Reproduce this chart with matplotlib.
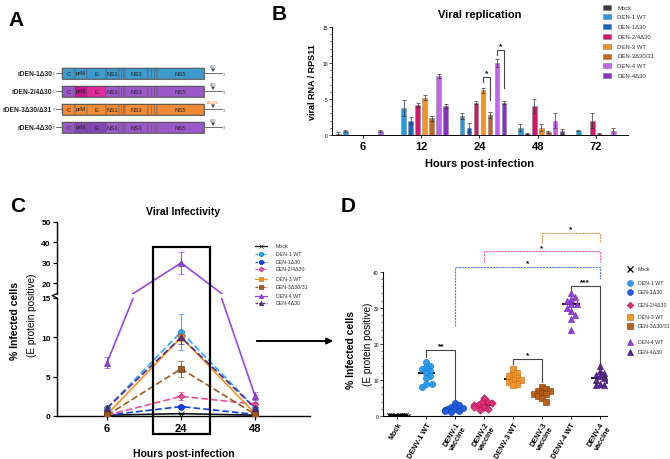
import numpy as np
import matplotlib
matplotlib.use("Agg")
import matplotlib.pyplot as plt
from matplotlib.patches import Rectangle, Polygon
from matplotlib.ticker import MultipleLocator

plt.rcParams['font.family'] = ['Liberation Sans', 'DejaVu Sans']

W, H = 670, 460

# ── Panel A: genome schematic ───────────────────────────────
seg_names = ['C', 'prM', 'E', 'NS1', '', 'NS3', '', 'NS5']
seg_len = [13, 12, 19, 13, 6, 23, 9, 47]
constructs = ['rDEN-1Δ30', 'rDEN-2/4Δ30', 'rDEN-3Δ30/Δ31', 'rDEN-4Δ30']
mut_labels = ['Δ30', 'Δ30', 'Δ30/31', 'Δ30']
_b, _p, _o = '#3d9bd0', '#9a58c8', '#f28a35'
construct_colors = [
    [_b] * 8,
    [_p, '#c8158e', '#e02a9c', _p, _p, _p, _p, _p],
    [_o] * 8,
    [_p, '#8546b5', '#8546b5', _p, _p, _p, _p, _p],
]
mut_colors = ['#3a5a90', '#555555', '#f07030', '#555555']

# ── Panel B: viral RNA / RPS11 ──────────────────────────────
strains = ['Mock', 'DEN-1 WT', 'DEN-1Δ30', 'DEN-2/4Δ30',
           'DEN-3 WT', 'DEN-3Δ30/31', 'DEN-4 WT', 'DEN-4Δ30']
hours_b = ['6', '12', '24', '48', '72']
rna_mock   = [0.2, 0.0, 0.0, 0.0, 0.0]
rna_d1wt   = [0.5, 3.8, 2.6, 1.0, 0.6]
rna_d1d30  = [0.05, 2.0, 1.0, 0.2, 0.0]
rna_d24    = [0.0, 4.2, 4.5, 4.0, 2.0]
rna_d3wt   = [0.0, 5.2, 6.2, 1.0, 0.2]
rna_d3d30  = [0.0, 2.3, 2.8, 0.4, 0.0]
rna_d4wt   = [0.5, 8.2, 10.0, 2.0, 0.5]
rna_d4d30  = [0.0, 4.0, 4.5, 0.5, 0.0]
sd_mock    = [0.2, 0, 0, 0, 0]
sd_d1wt    = [0.15, 1.1, 0.4, 0.5, 0.1]
sd_d1d30   = [0.0, 0.5, 0.6, 0.1, 0.0]
sd_d24     = [0.0, 0.3, 0.2, 1.0, 1.0]
sd_d3wt    = [0.0, 0.3, 0.3, 0.5, 0.1]
sd_d3d30   = [0.0, 0.3, 0.4, 0.15, 0.0]
sd_d4wt    = [0.15, 0.3, 0.5, 1.0, 0.5]
sd_d4d30   = [0.0, 0.3, 0.2, 0.3, 0.0]
colors_b = ['#3a3a3a', '#1e9de6', '#1566c4', '#d8116a',
            '#f7931e', '#c7651c', '#c262ee', '#8a2fc6']

# ── Panel C: infectivity time course ────────────────────────
hours_c = ['6', '24', '48']
inf_mock  = [0.1, 0.3, 0.1]
inf_d1wt  = [1.0, 10.7, 1.0]
inf_d1d30 = [0.1, 1.2, 0.2]
inf_d24   = [0.1, 2.5, 1.5]
inf_d3wt  = [0.2, 10.0, 0.3]
inf_d3d30 = [0.1, 6.0, 0.2]
inf_d4wt  = [6.8, 30.0, 2.5]
inf_d4d30 = [1.0, 10.0, 1.0]
err_mock  = [0.0, 0.0, 0.0]
err_d1wt  = [0.2, 2.3, 0.2]
err_d1d30 = [0.05, 0.15, 0.05]
err_d24   = [0.05, 0.5, 0.3]
err_d3wt  = [0.05, 0.5, 0.1]
err_d3d30 = [0.05, 1.0, 0.1]
err_d4wt  = [0.7, 5.5, 0.5]
err_d4d30 = [0.2, 0.8, 0.2]

# ── Panel D: % infected cells at 24 h ───────────────────────
groups_d = ['Mock', 'DENV-1 WT', 'DENV-1\nvaccine', 'DENV-2\nvaccine',
            'DENV-3 WT', 'DENV-3\nvaccine', 'DENV-4 WT', 'DENV-4\nvaccine']
pct_mock  = [0.1, 0.2, 0.3, 0.2, 0.1, 0.3, 0.4, 0.2, 0.3, 0.1]
pct_d1wt  = [15, 14, 13.5, 13, 12.5, 12, 11, 10.5, 9, 9, 8]
pct_d1vac = [3.5, 3, 2.5, 2.2, 2, 2, 1.8, 1.5, 1.5, 1.2]
pct_d2vac = [5, 4, 3.8, 3.5, 3, 3, 2.5, 2.5, 2, 1.8]
pct_d3wt  = [13, 12, 11.5, 11, 10.5, 10, 10, 9.5, 9, 8.5]
pct_d3vac = [8, 7.5, 7, 6.8, 6.5, 6, 6, 5.5, 5, 4]
pct_d4wt  = [34, 33, 32.5, 32, 31, 31, 30, 29, 28, 27, 24]
pct_d4vac = [14, 12.5, 12, 11.5, 11, 10.5, 10, 10, 9, 8.5, 8.5]
legend_d = ['Mock', 'DEN-1 WT', 'DEN-1Δ30', 'DEN-2/4Δ30', 'DEN-3 WT',
            'DEN-3Δ30/31', 'DEN-4 WT', 'DEN-4Δ30']

c_col = ['#111111', '#2aa8f0', '#1040e8', '#f04c9e', '#f59424',
         '#a25a20', '#9b45e8', '#5a2a90']
c_edge = ['#111111', '#1a6fb0', '#0a2690', '#b0206a', '#b85f10',
          '#603410', '#6a25a8', '#35185a']
c_mark = ['x', 'o', 'o', 'D', 's', 's', '^', '^']
c_ls = ['-', '--', '--', '--', '-', '--', '-', '--']
d_col = ['#111111', '#2a9df4', '#1f5ee8', '#e0307a', '#f5952a',
         '#b8601a', '#9b3de0', '#5b2596']
d_edge = ['#111111', '#1a70c0', '#1238a0', '#a01850', '#c06a10',
          '#7a3a08', '#6a1fb0', '#351060']

fig = plt.figure(figsize=(W / 100, H / 100), dpi=100)


def px_axes(x0, y0, x1, y1):
    return fig.add_axes([x0 / W, 1 - y1 / H, (x1 - x0) / W, (y1 - y0) / H])


# ── B ───────────────────────────────────────────────────────
axb = px_axes(332, 28, 628, 136)
rna = [rna_mock, rna_d1wt, rna_d1d30, rna_d24, rna_d3wt, rna_d3d30, rna_d4wt, rna_d4d30]
sds = [sd_mock, sd_d1wt, sd_d1d30, sd_d24, sd_d3wt, sd_d3d30, sd_d4wt, sd_d4d30]
xb = np.arange(len(hours_b))
step = 0.12
for i, (v, e) in enumerate(zip(rna, sds)):
    axb.bar(xb + (i - 3.5) * step, v, 0.08, yerr=e, color=colors_b[i],
            edgecolor='#8a8a8a', linewidth=0.4,
            error_kw=dict(elinewidth=0.5, capsize=1.2, capthick=0.5, ecolor='#333333'))
axb.set_xlim(-0.53, 4.55)
axb.set_ylim(0, 15)
axb.set_xticks(xb)
axb.set_xticklabels(hours_b, fontsize=8, fontweight='bold')
axb.set_yticks([0, 5, 10, 15])
axb.yaxis.set_minor_locator(MultipleLocator(1))
axb.tick_params(axis='y', labelsize=3.5, length=2, width=0.5, pad=1)
axb.tick_params(axis='y', which='minor', length=1.2, width=0.4)
axb.tick_params(axis='x', length=2.5, width=0.6, pad=2)
for s in ['top', 'right']:
    axb.spines[s].set_visible(False)
for s in ['left', 'bottom']:
    axb.spines[s].set_linewidth(0.7)
axb.set_ylabel('viral RNA / RPS11', fontsize=6.5, fontweight='bold', labelpad=4)
axb.set_xlabel('Hours post-infection', fontsize=8, fontweight='bold', labelpad=5)
axb.set_title('Viral replication', fontsize=8, fontweight='bold', pad=7)


def bracket(ax, x1, x2, y, yl, yr, star, color='#444444', ls='-', lw=0.8, fs=6, dy=0.6):
    ax.plot([x1, x1, x2, x2], [yl, y, y, yr], color=color, ls=ls, lw=lw, clip_on=False)
    ax.text((x1 + x2) / 2, y + dy, star, ha='center', va='center',
            fontsize=fs, fontweight='bold', clip_on=False)


bracket(axb, 2 + 0.5 * step, 2 + 1.5 * step, 8.1, 7.3, 4.9, '*', dy=0.6)
bracket(axb, 2 + 2.5 * step, 2 + 3.5 * step, 11.8, 11.1, 6.5, '*', dy=0.6)

# ── C (broken y axis) ──────────────────────────────────────
axc_lo = px_axes(57, 299, 310, 417)
axc_hi = px_axes(57, 223, 310, 294.5)
inf = [inf_mock, inf_d1wt, inf_d1d30, inf_d24, inf_d3wt, inf_d3d30, inf_d4wt, inf_d4d30]
errs = [err_mock, err_d1wt, err_d1d30, err_d24, err_d3wt, err_d3d30, err_d4wt, err_d4d30]
xc = np.arange(len(hours_c))
for ax in (axc_lo, axc_hi):
    for i in range(8):
        ms = 3.2 if c_mark[i] == 'D' else 4.2
        ax.errorbar(xc, inf[i], yerr=errs[i], color=c_col[i], ls=c_ls[i], lw=1.2,
                    marker=c_mark[i], ms=ms, mfc=c_col[i], mec=c_edge[i], mew=0.5,
                    elinewidth=0.7, capsize=2, capthick=0.7,
                    dashes=(4, 1.8) if c_ls[i] == '--' else (None, None),
                    zorder=3 + (i == 6))
    ax.set_xlim(-0.676, 2.74)
    ax.spines['top'].set_visible(False)
    ax.spines['right'].set_visible(False)
    ax.spines['left'].set_linewidth(1.0)
    ax.tick_params(axis='y', labelsize=6, length=3, width=0.9, pad=1.5)
axc_lo.set_ylim(0, 15)
axc_lo.set_yticks([0, 5, 10, 15])
axc_lo.set_xticks(xc)
axc_lo.set_xticklabels(hours_c, fontsize=8, fontweight='bold')
axc_lo.tick_params(axis='x', length=3, width=0.9, pad=2)
axc_lo.spines['bottom'].set_linewidth(1.0)
axc_lo.set_xlabel('Hours post-infection', fontsize=7.5, fontweight='bold', labelpad=11)
axc_hi.set_ylim(15, 50)
axc_hi.set_yticks([20, 30, 40, 50])
axc_hi.spines['bottom'].set_visible(False)
axc_hi.set_xticks([])
axc_hi.set_title('Viral Infectivity', fontsize=7.5, fontweight='bold', pad=6)
for t in axc_lo.get_yticklabels() + axc_hi.get_yticklabels():
    t.set_fontweight('bold')
# break marks
axc_hi.plot([-0.018, 0.0], [-0.03, 0.0], transform=axc_hi.transAxes,
            color='black', lw=0.9, clip_on=False)
axc_lo.plot([-0.018, 0.0], [1.02, 1.0], transform=axc_lo.transAxes,
            color='black', lw=0.9, clip_on=False)

# ── D ───────────────────────────────────────────────────────
axd = px_axes(383, 226, 607, 417)
pct = [pct_mock, pct_d1wt, pct_d1vac, pct_d2vac, pct_d3wt, pct_d3vac, pct_d4wt, pct_d4vac]
xpx, ypx = 29.0, 3.6


def swarm(vals, d=4.2, st=2.0):
    placed, offs = [], []
    for v in vals:
        for k in [0, 1, -1, 2, -2, 3, -3, 4, -4, 5, -5]:
            ox = k * st
            if all((ox - px) ** 2 + ((v - pv) * ypx) ** 2 >= d * d for px, pv in placed):
                break
        placed.append((ox, v))
        offs.append(ox / xpx)
    return np.array(offs)


for i, vals in enumerate(pct):
    offs = swarm(vals, d=2.2, st=2.2) if i == 0 else swarm(vals)
    med = np.median(vals)
    axd.plot([i - 0.3, i + 0.3], [med, med], color='black', lw=1.3, zorder=2,
             solid_capstyle='butt')
    if c_mark[i] == 'x':
        axd.scatter(i + offs, vals, marker='x', s=9, color='black', lw=0.8, zorder=3)
    else:
        axd.scatter(i + offs, vals, marker=c_mark[i], s=20 if c_mark[i] != 'D' else 15,
                    color=d_col[i], edgecolors=d_edge[i], linewidths=0.4, zorder=3)
axd.set_xlim(-0.5, 7.25)
axd.set_ylim(0, 53)
axd.spines['top'].set_visible(False)
axd.spines['right'].set_visible(False)
axd.spines['left'].set_bounds(0, 40)
axd.spines['left'].set_linewidth(0.8)
axd.spines['bottom'].set_linewidth(0.8)
axd.set_yticks([0, 10, 20, 30, 40])
axd.yaxis.set_minor_locator(plt.FixedLocator(np.arange(0, 41, 2)))
axd.tick_params(axis='y', labelsize=3.5, length=2, width=0.5, pad=1)
axd.tick_params(axis='y', which='minor', length=1.2, width=0.4)
axd.set_xticks(np.arange(8))
axd.set_xticklabels(groups_d, rotation=60, ha='right', rotation_mode='anchor',
                    fontsize=5.2, fontweight='bold', multialignment='center')
axd.tick_params(axis='x', length=2.5, width=0.6, pad=1)

bracket(axd, 1, 2, 18.2, 16.5, 4.0, '**', fs=6, dy=1.2)
bracket(axd, 4, 5, 15.9, 14.3, 9.3, '*', fs=6, dy=1.2)
bracket(axd, 6, 7, 36.1, 34.7, 14.4, '***', fs=6, dy=1.2)
bracket(axd, 2, 7, 41.4, 25.0, 38.1, '*', color='#4f7ff0', ls=(0, (2, 0.8)), lw=0.8, fs=6, dy=1.0)
bracket(axd, 3, 7, 45.8, 42.8, 42.6, '*', color='#f25cb0', ls=(0, (2, 0.8)), lw=0.8, fs=6, dy=1.0)
bracket(axd, 5, 7, 50.9, 48.0, 48.0, '*', color='#e0904a', ls=(0, (2, 0.8)), lw=0.8, fs=6, dy=1.0)

# ── overlay: schematic, legends, labels, box and arrow ──────
ov = fig.add_axes([0, 0, 1, 1], zorder=10)
ov.set_xlim(0, W)
ov.set_ylim(H, 0)
ov.axis('off')
ov.patch.set_alpha(0)

# A schematic
for r, (name, cols) in enumerate(zip(constructs, construct_colors)):
    y = 74 + 18 * r
    x = 62
    ov.plot([56, 62], [y, y], color='#555555', lw=0.6)
    ov.text(55, y, "5'", fontsize=2.5, ha='right', va='center', color='#555555')
    for nm, ln, col in zip(seg_names, seg_len, cols):
        ov.add_patch(Rectangle((x, y - 5.5), ln, 11, fc=col, ec='#5a5a5a', lw=0.35))
        if nm:
            ov.text(x + ln / 2, y, nm, fontsize=4.3, ha='center', va='center', color='#222222')
        else:
            for f in (0.3, 0.7):
                ov.plot([x + ln * f] * 2, [y - 4, y + 4], color='#5a5a5a', lw=0.4)
        x += ln
    ov.add_patch(Rectangle((62, y - 5.5), sum(seg_len), 11, fill=False, ec='#555555', lw=0.6))
    ov.plot([x, x + 18], [y, y], color='#555555', lw=0.6)
    ov.text(x + 19, y + 0.5, "3'", fontsize=2.5, ha='left', va='center', color='#555555')
    ov.add_patch(Polygon([[x + 7, y - 4.5], [x + 11, y - 4.5], [x + 9, y - 1]],
                         closed=True, fc='#2f3f5f', ec='none'))
    ov.text(x + 9, y - 7, mut_labels[r], fontsize=2.6, ha='center', va='center',
            color=mut_colors[r])
    ov.text(52, y, name, fontsize=4.8, ha='right', va='center', fontweight='bold',
            color='#222222')

# panel letters
for lab, (lx, ly) in zip('ABCD', [(8, 20), (272, 14), (10, 207), (341, 207)]):
    ov.text(lx, ly, lab, fontsize=15, fontweight='bold', ha='left', va='center')

# legend B
for i, s in enumerate(strains):
    yy = 8 + 9.8 * i
    ov.add_patch(Rectangle((603, yy - 2.5), 8, 5, fc=colors_b[i], ec='#777777', lw=0.4))
    ov.text(617, yy, s, fontsize=4.3, va='center', ha='left', color='#333333')

# legend C
for i, (s, yy) in enumerate(zip(strains, [247, 255, 263, 270, 280, 288, 297, 304])):
    ov.plot([255, 267], [yy, yy], color=c_col[i], lw=0.9,
            ls='-' if c_ls[i] == '-' else (0, (2, 1)))
    ov.plot([261], [yy], marker=c_mark[i], ms=3.2 if c_mark[i] != 'D' else 2.6,
            mfc=c_col[i], mec=c_edge[i], mew=0.4, color=c_col[i])
    ov.text(276, yy, s, fontsize=3.8, va='center', ha='left', color='#333333')

# legend D
for i, (s, yy) in enumerate(zip(legend_d, [270, 284, 293, 306, 318, 327, 343, 353])):
    if c_mark[i] == 'x':
        ov.plot([630], [yy], marker='x', ms=4, color='black', mew=0.9)
    else:
        ov.plot([630], [yy], marker=c_mark[i], ms=4.2 if c_mark[i] != 'D' else 3.4,
                mfc=d_col[i], mec=d_edge[i], mew=0.4, ls='none')
    ov.text(638, yy, s, fontsize=3.8, va='center', ha='left', color='#333333')

# y labels for C and D
for x0, yc in ((15, 321), (351, 350)):
    ov.text(x0, yc, '% Infected cells', rotation=90, fontsize=7.5, fontweight='bold',
            ha='center', va='center')
    ov.text(x0 + 17, yc - 6, '(E protein positive)', rotation=90, fontsize=7.2,
            ha='center', va='center')

# highlight box on 24 h and arrow to panel D
ov.add_patch(Rectangle((153, 248), 57, 187, fill=False, ec='black', lw=1.6))
ov.annotate('', xy=(336, 342), xytext=(254, 342),
            arrowprops=dict(arrowstyle='-|>', lw=1.4, color='black', mutation_scale=9))

fig.savefig('out.png', dpi=100)
